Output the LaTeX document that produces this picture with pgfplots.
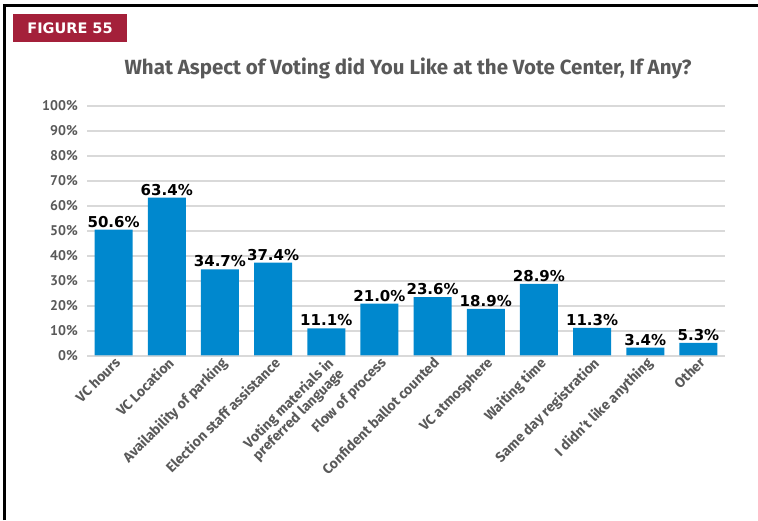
\documentclass[border=0pt]{standalone}
\usepackage{pgfplots}
\pgfplotsset{compat=1.18}
\usepackage{fontspec}
\setmainfont{Fira Sans}
\newfontfamily\valfont{DejaVu Sans}
\newfontfamily\tickfont{PT Sans}
\definecolor{barblue}{HTML}{0088CE}
\definecolor{figred}{HTML}{A4203A}
\definecolor{txtgrey}{HTML}{595959}
\definecolor{gridgrey}{HTML}{D9D9D9}
\begin{document}
\begin{tikzpicture}[x=1pt,y=1pt]
\useasboundingbox (0,0) rectangle (758,520);
\draw[line width=2.5pt, black] (4.5,0) -- (4.5,514.5) -- (758,514.5);
\fill[figred] (13.3,505.7) rectangle (126.7,477.7);
\node[white, font=\valfont\bfseries\fontsize{14.5}{14.5}\selectfont] at (70,491.7) {FIGURE 55};
\node[txtgrey, font=\bfseries\fontsize{20.5}{20.5}\selectfont] at (408,452) {What Aspect of Voting did You Like at the Vote Center, If Any?};
\begin{axis}[
  at={(87pt,164pt)}, anchor=south west,
  scale only axis, width=638pt, height=250pt,
  xmin=-0.5, xmax=11.5, ymin=0, ymax=100,
  axis line style={draw=none},
  major tick length=0pt,
  ymajorgrids, grid style={gridgrey, line width=1.3pt},
  ytick={0,10,...,100},
  yticklabels={0\%,10\%,20\%,30\%,40\%,50\%,60\%,70\%,80\%,90\%,100\%},
  yticklabel style={txtgrey, font=\tickfont\bfseries\fontsize{14}{14}\selectfont, inner sep=0pt, anchor=east, xshift=-9pt},
  xtick={0,...,11},
  xticklabels={VC hours, VC Location, Availability of parking, Election staff assistance, {Voting materials in\\preferred language}, Flow of process, Confident ballot counted, VC atmosphere, Waiting time, Same day registration, I didn't like anything, Other},
  xticklabel style={txtgrey, font=\bfseries\fontsize{14}{12.5}\selectfont, rotate=45, anchor=north east, align=right, inner sep=1pt, yshift=1pt, xshift=1pt},
  ybar, bar width=38pt, bar shift=0pt,
  point meta=explicit symbolic,
  nodes near coords,
  nodes near coords style={black, font=\valfont\bfseries\fontsize{15}{15}\selectfont, anchor=south, inner sep=2pt},
]
\addplot[fill=barblue, draw=none] coordinates {
(0,50.6) [50.6\%]
(1,63.4) [63.4\%]
(2,34.7) [34.7\%]
(3,37.4) [37.4\%]
(4,11.1) [11.1\%]
(5,21.0) [21.0\%]
(6,23.6) [23.6\%]
(7,18.9) [18.9\%]
(8,28.9) [28.9\%]
(9,11.3) [11.3\%]
(10,3.4) [3.4\%]
(11,5.3) [5.3\%]
};
\draw[gridgrey, line width=1.3pt, opacity=0.7] (axis cs:-0.5,0) -- (axis cs:11.5,0);
\end{axis}
\end{tikzpicture}
\end{document}
